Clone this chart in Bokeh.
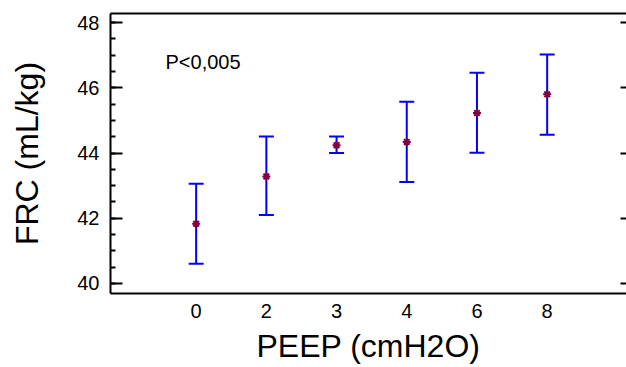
from bokeh.plotting import figure
from bokeh.models import (Range1d, FixedTicker, LinearAxis, Whisker, ColumnDataSource, Label,
                          TeeHead, CustomJSTickFormatter)
from bokeh.embed import file_html
from bokeh.resources import INLINE

# data
peep_labels = ["0", "2", "3", "4", "6", "8"]
frc_mean = [41.83, 43.28, 44.24, 44.34, 45.23, 45.80]
frc_lower = [40.60, 42.10, 44.00, 43.11, 44.01, 44.56]
frc_upper = [43.06, 44.51, 44.51, 45.57, 46.46, 47.02]
y_ticks = [40, 42, 44, 46, 48]

FONT = "Liberation Sans"
xs = list(range(len(peep_labels)))
src = ColumnDataSource(dict(x=xs, mean=frc_mean, lo=frc_lower, hi=frc_upper))

p = figure(width=626, height=367, output_backend="svg", toolbar_location=None,
           x_range=Range1d(-1.22, 6.13), y_range=Range1d(39.69, 48.28),
           min_border_left=110, min_border_right=0, min_border_top=13, min_border_bottom=74)
p.outline_line_color = None
p.xgrid.visible = False
p.ygrid.visible = False
p.background_fill_color = "white"
p.border_fill_color = "white"

# bottom axis
xa = p.xaxis[0]
xa.ticker = FixedTicker(ticks=xs)
xa.major_label_overrides = {i: s for i, s in zip(xs, peep_labels)}
xa.major_tick_in = 0
xa.major_tick_out = 0
xa.minor_tick_line_color = None
xa.axis_line_width = 2
xa.axis_line_color = "black"
xa.major_label_text_font = FONT
xa.major_label_text_font_size = "20px"
xa.major_label_text_color = "black"
xa.major_label_standoff = 10
xa.axis_label = "PEEP (cmH2O)"
xa.axis_label_text_font = FONT
xa.axis_label_text_font_size = "32px"
xa.axis_label_text_font_style = "normal"
xa.axis_label_text_color = "black"
xa.axis_label_standoff = 7

# left axis
ya = p.yaxis[0]
ya.ticker = FixedTicker(ticks=y_ticks, minor_ticks=[40 + 0.5 * i for i in range(17)])
ya.major_tick_in = 12
ya.major_tick_out = 0
ya.minor_tick_in = 5
ya.minor_tick_out = 0
ya.major_tick_line_width = 2
ya.minor_tick_line_width = 2
ya.axis_line_width = 2
ya.axis_line_color = "black"
ya.major_label_text_font = FONT
ya.major_label_text_font_size = "20px"
ya.major_label_text_color = "black"
ya.major_label_standoff = 11
ya.axis_label = "FRC (mL/kg)"
ya.axis_label_text_font = FONT
ya.axis_label_text_font_size = "32px"
ya.axis_label_text_font_style = "normal"
ya.axis_label_text_color = "black"
ya.axis_label_standoff = 29

# top line
top = LinearAxis(ticker=FixedTicker(ticks=[]), axis_line_width=2, axis_line_color="black",
                 major_tick_out=0, major_tick_in=0, minor_tick_line_color=None)
p.add_layout(top, "above")

# right ticks (no labels)
right = LinearAxis(ticker=FixedTicker(ticks=y_ticks), axis_line_color=None,
                   major_tick_in=6, major_tick_out=0, major_tick_line_width=2,
                   minor_tick_line_color=None, major_label_standoff=0,
                   formatter=CustomJSTickFormatter(code="return ''"))
p.add_layout(right, "right")

w = Whisker(source=src, base="x", lower="lo", upper="hi", line_color="#0000FF", line_width=2,
            upper_head=TeeHead(size=15, line_color="#0000FF", line_width=2),
            lower_head=TeeHead(size=15, line_color="#0000FF", line_width=2))
p.add_layout(w)

p.scatter("x", "mean", source=src, marker="asterisk", size=8, line_color="#800040", line_width=2)

p.add_layout(Label(x=55, y=232, x_units="screen", y_units="screen", text="P<0,005",
                   text_font=FONT, text_font_size="20px", text_color="black",
                   text_baseline="alphabetic"))

open("out.html", "w").write(file_html(p, INLINE))
